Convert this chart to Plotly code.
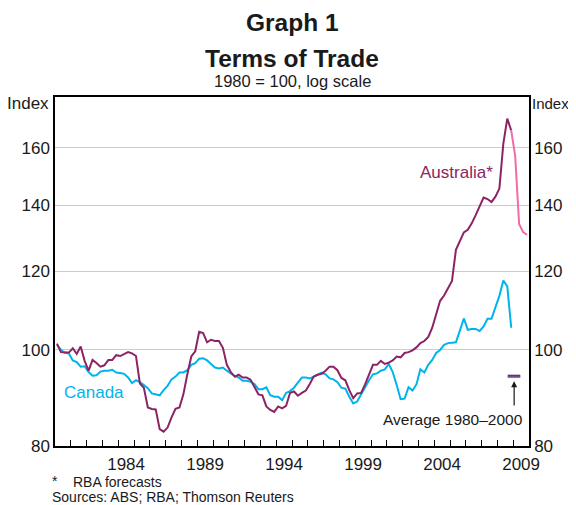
import numpy as np
import plotly.graph_objects as go

# quarterly index, 1980 = 100 (1980Q1 onwards)
aus_actual = [
    101.5, 99.5, 99.4, 99.4, 100.4, 99.1, 100.8, 97.5, 95.3, 97.7,
    97.0, 96.2, 96.5, 97.7, 97.7, 98.8, 98.6, 99.0, 99.5, 99.2,
    98.6, 92.5, 91.6, 87.5, 87.2, 87.1, 83.2, 82.7, 83.5, 85.5,
    87.2, 87.5, 90.2, 94.5, 98.5, 99.7, 104.3, 104.0, 101.8, 102.4,
    102.1, 102.1, 100.5, 96.6, 95.0, 94.0, 94.4, 93.8, 93.8, 93.3,
    91.6, 90.2, 90.0, 87.7, 87.0, 86.6, 87.7, 87.3, 87.8, 90.5,
    90.8, 89.9, 90.5, 91.0, 92.4, 94.0, 94.4, 94.6, 95.3, 96.2,
    96.2, 95.4, 93.7, 93.2, 91.1, 89.4, 90.4, 90.5, 92.3, 94.6,
    96.6, 96.6, 97.5, 96.8, 97.1, 97.6, 98.5, 98.3, 99.3, 99.5,
    99.9, 100.6, 101.6, 102.1, 103.1, 105.3, 109.0, 112.1, 113.5, 115.3,
    117.4, 126.2, 128.6, 131.4, 132.2, 134.2, 136.8, 139.5, 142.5, 142.0,
    141.0, 142.8, 145.5, 161.5, 171.2, 166.5,
]
# RBA forecasts, 2008Q4 to 2009Q4
aus_forecast = [166.5, 157.0, 134.0, 131.5, 130.7]

canada = [
    101.2, 100.0, 99.4, 99.2, 97.6, 97.2, 96.2, 96.3, 95.0, 94.2,
    94.3, 95.1, 95.3, 95.3, 95.5, 94.9, 94.8, 94.6, 93.8, 92.6,
    93.2, 92.8, 92.2, 91.5, 90.4, 90.2, 90.0, 91.1, 92.0, 93.4,
    94.0, 94.9, 94.9, 95.4, 96.6, 97.0, 98.0, 98.1, 97.6, 96.8,
    96.0, 95.8, 96.0, 95.3, 94.6, 94.1, 93.8, 93.1, 93.1, 92.9,
    92.4, 91.3, 91.3, 91.7, 90.0, 89.7, 89.7, 89.0, 90.5, 90.9,
    91.6, 92.6, 93.8, 93.8, 93.6, 94.0, 94.4, 94.9, 94.5, 93.6,
    93.4, 92.8, 91.6, 91.4, 89.7, 88.3, 88.7, 90.2, 91.8, 93.2,
    94.5, 94.7, 95.3, 95.6, 96.8, 95.0, 92.2, 89.2, 89.3, 91.7,
    91.0, 92.3, 95.6, 94.9, 96.6, 97.7, 99.3, 100.0, 101.2, 101.6,
    101.7, 101.8, 104.6, 107.6, 104.8, 105.0, 105.0, 104.5, 105.6, 107.5,
    107.5, 110.4, 113.4, 117.5, 115.9, 105.3,
]

# averages 1980-2000
avg_aus = 94.2
avg_can = 93.9
avg_span = [2008.65, 2009.45]

year_labels = ["1984", "1989", "1994", "1999", "2004", "2009"]
y_ticks = [80, 100, 120, 140, 160]

quarters = 1980.125 + 0.25 * np.arange(120)
x_aus = quarters[:len(aus_actual)]
x_fc = quarters[len(aus_actual) - 1:len(aus_actual) - 1 + len(aus_forecast)]
x_can = quarters[:len(canada)]

AUS = "#8C2463"
PINK = "#F06BA8"
CAN = "#00B4EB"
TXT = "#1a1a1a"
FONT = "Arial, Liberation Sans, sans-serif"

fig = go.Figure()
fig.add_trace(go.Scatter(x=x_can, y=canada, mode="lines",
                         line=dict(color=CAN, width=2), showlegend=False))
fig.add_trace(go.Scatter(x=x_aus, y=aus_actual, mode="lines",
                         line=dict(color=AUS, width=2), showlegend=False))
fig.add_trace(go.Scatter(x=x_fc, y=aus_forecast, mode="lines",
                         line=dict(color=PINK, width=2), showlegend=False))
fig.add_trace(go.Scatter(x=avg_span, y=[avg_can, avg_can], mode="lines",
                         line=dict(color=CAN, width=2), showlegend=False,
                         xaxis="x2", yaxis="y2"))
fig.add_trace(go.Scatter(x=avg_span, y=[avg_aus, avg_aus], mode="lines",
                         line=dict(color=AUS, width=2), showlegend=False,
                         xaxis="x2", yaxis="y2"))

yrange = [np.log10(80), np.log10(180)]
tickfont = dict(family=FONT, size=17, color=TXT)

# page body has an 8px margin, so the figure is shrunk by that much
fig.update_layout(
    width=568, height=497,
    margin=dict(l=47, r=47, t=89, b=59),
    paper_bgcolor="white", plot_bgcolor="white",
    font=dict(family=FONT, color=TXT),
    xaxis=dict(range=[1980, 2010], tickvals=list(range(1981, 2010)),
               ticks="inside", ticklen=6, tickcolor="black", tickwidth=1,
               showticklabels=False, showgrid=False, zeroline=False,
               showline=True, linecolor="black", linewidth=1.5, mirror=True),
    xaxis2=dict(range=[1980, 2010], overlaying="x", side="bottom",
                tickvals=[int(y) + 0.5 for y in year_labels], ticktext=year_labels,
                ticks="outside", ticklen=3, tickcolor="rgba(0,0,0,0)",
                showgrid=False, zeroline=False, showline=False, tickfont=tickfont),
    yaxis=dict(type="log", range=yrange, tickvals=y_ticks,
               ticktext=[str(v) for v in y_ticks], ticks="",
               showgrid=True, gridcolor="#cccccc", gridwidth=1, zeroline=False,
               showline=True, linecolor="black", linewidth=1.5, tickfont=tickfont),
    yaxis2=dict(type="log", range=yrange, overlaying="y", side="right",
                tickvals=y_ticks, ticktext=[str(v) for v in y_ticks], ticks="",
                showgrid=False, zeroline=False, showline=True, linecolor="black",
                linewidth=1.5, tickfont=tickfont),
)

# 100 reference line
fig.add_shape(type="line", xref="paper", x0=0, x1=1, yref="y", y0=2, y1=2,
              line=dict(color="#7f7f7f", width=1.8), layer="below")

ann = []
ann.append(dict(text="<b>Graph 1</b>", x=0.5, y=1.213, font=dict(size=24.5)))
ann.append(dict(text="<b>Terms of Trade</b>", x=0.5, y=1.11, font=dict(size=24.5)))
ann.append(dict(text="1980 = 100, log scale", x=0.5, y=1.046, font=dict(size=16.5)))
for a in ann:
    a.update(xref="paper", yref="paper", showarrow=False, xanchor="center",
             yanchor="middle")
ann.append(dict(text="Index", xref="paper", yref="paper", x=-0.008, y=0.98,
                xanchor="right", yanchor="middle", showarrow=False, font=dict(size=17)))
ann.append(dict(text="Index", xref="paper", yref="paper", x=1.089, y=0.98,
                xanchor="right", yanchor="middle", showarrow=False, font=dict(size=15)))
ann.append(dict(text="*", xref="paper", yref="paper", x=-0.011, y=-0.1,
                xanchor="left", yanchor="middle", showarrow=False, font=dict(size=14)))
ann.append(dict(text="RBA forecasts", xref="paper", yref="paper", x=0.034, y=-0.103,
                xanchor="left", yanchor="middle", showarrow=False, font=dict(size=14)))
ann.append(dict(text="Sources: ABS; RBA; Thomson Reuters", xref="paper", yref="paper",
                x=-0.011, y=-0.146, xanchor="left", yanchor="middle", showarrow=False,
                font=dict(size=14)))
# series labels
ann.append(dict(text="Australia*", x=2005.42, y=np.log10(151), xref="x", yref="y",
                showarrow=False, font=dict(size=17, color=AUS)))
ann.append(dict(text="Canada", x=1982.47, y=np.log10(90.6), xref="x", yref="y",
                showarrow=False, font=dict(size=17, color=CAN)))
ann.append(dict(text="Average 1980\u20132000", x=2005.21, y=np.log10(85.1),
                xref="x", yref="y", showarrow=False, font=dict(size=15.5)))
ann.append(dict(text="", x=2009.06, y=np.log10(93.0), xref="x", yref="y",
                ax=2009.06, ay=np.log10(87.6), axref="x", ayref="y",
                showarrow=True, arrowhead=2, arrowsize=1, arrowwidth=1.2,
                arrowcolor=TXT))
fig.update_layout(annotations=ann)

fig.write_html("out.html")
